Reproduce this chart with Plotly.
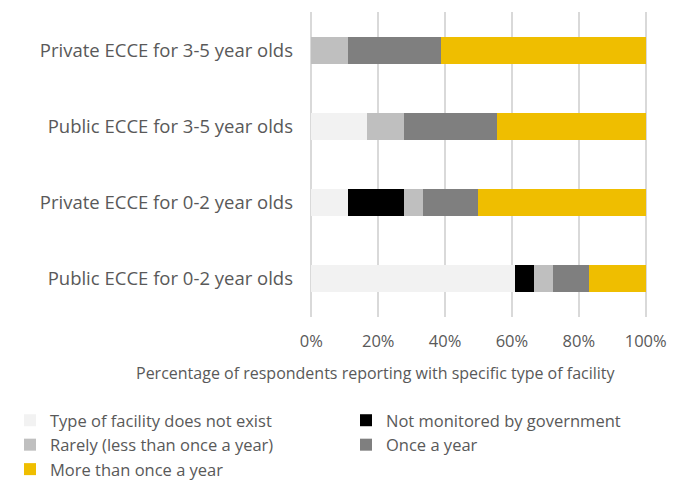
import plotly.graph_objects as go

# Facility categories (bottom to top on the chart)
categories = [
    "Public ECCE for 0-2 year olds",
    "Private ECCE for 0-2 year olds",
    "Public ECCE for 3-5 year olds",
    "Private ECCE for 3-5 year olds",
]

# Share of respondents (%) per monitoring frequency
does_not_exist = [61.0, 11.0, 16.6, 0.0]
not_monitored = [5.6, 16.6, 0.0, 0.0]
rarely = [5.7, 5.7, 11.2, 11.0]
once_a_year = [10.7, 16.5, 27.7, 27.8]
more_than_once = [17.0, 50.2, 44.5, 61.2]

tick_values = [0, 20, 40, 60, 80, 100]
tick_labels = ["0%", "20%", "40%", "60%", "80%", "100%"]

# name, values, colour, legend column
series = [
    ("Type of facility does not exist", does_not_exist, "#f2f2f2", "legend"),
    ("Not monitored by government", not_monitored, "#000000", "legend2"),
    ("Rarely (less than once a year)", rarely, "#bfbfbf", "legend"),
    ("Once a year", once_a_year, "#7f7f7f", "legend2"),
    ("More than once a year", more_than_once, "#efbe00", "legend"),
]

FONT = "Open Sans"
TEXT = "#595959"

W, H = 688, 480
M_L, M_R, M_T, M_B = 308, 39, 12, 163
PLOT_W = W - M_L - M_R
PLOT_H = H - M_T - M_B

fig = go.Figure()
for name, values, color, leg in series:
    fig.add_trace(go.Bar(
        y=categories,
        x=values,
        name=name,
        orientation="h",
        marker=dict(color=color, line=dict(width=0)),
        legend=leg,
        hoverinfo="x+name",
    ))

legend_common = dict(
    orientation="v",
    traceorder="normal",
    xref="container",
    yref="container",
    xanchor="left",
    yanchor="top",
    itemwidth=30,
    tracegroupgap=0,
    bgcolor="rgba(0,0,0,0)",
    font=dict(size=16.5, color=TEXT),
)

fig.update_layout(
    barmode="stack",
    bargap=0.645,
    width=W,
    height=H,
    margin=dict(l=M_L, r=M_R, t=M_T, b=M_B, autoexpand=False),
    paper_bgcolor="white",
    plot_bgcolor="white",
    font=dict(family=FONT, color=TEXT, size=16),
    xaxis=dict(
        range=[-1, 101],
        tickvals=tick_values,
        ticktext=tick_labels,
        showgrid=True,
        gridcolor="#d9d9d9",
        gridwidth=1.5,
        zeroline=False,
        showline=False,
        ticks="",
        ticklabelstandoff=12,
        tickfont=dict(size=16.5, color=TEXT),
    ),
    yaxis=dict(
        showgrid=False,
        ticks="",
        ticklabelstandoff=14,
        tickfont=dict(size=18.5, color=TEXT),
    ),
    legend=dict(x=10 / W, y=1 - 403 / H, **legend_common),
    legend2=dict(x=346 / W, y=1 - 403 / H, **legend_common),
    annotations=[dict(
        text="Percentage of respondents reporting with specific type of facility",
        xref="paper",
        yref="paper",
        x=(376 - M_L) / PLOT_W,
        y=(H - M_B - 373) / PLOT_H,
        xanchor="center",
        yanchor="middle",
        showarrow=False,
        font=dict(size=16, color=TEXT),
    )],
)

fig.write_html("out.html")
